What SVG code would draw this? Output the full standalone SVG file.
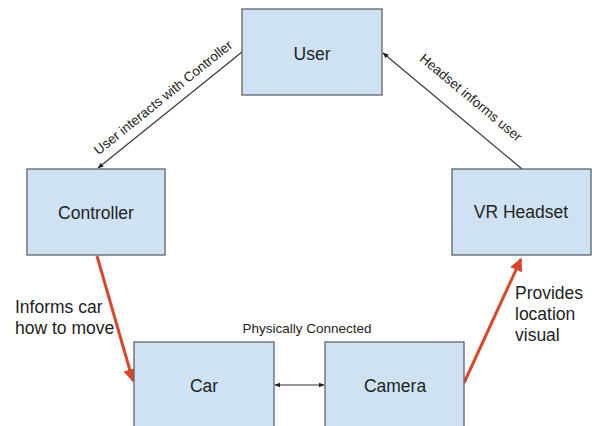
<svg xmlns="http://www.w3.org/2000/svg" width="592" height="426" viewBox="0 0 592 426">
<defs>
<style>
.box{fill:#cfe2f3;stroke:#5f6368;stroke-width:1.3}
.lbl{font-family:"Liberation Sans",Arial,sans-serif;font-size:17.5px;fill:#222;text-anchor:middle}
.note{font-family:"Liberation Sans",Arial,sans-serif;font-size:13.5px;fill:#222}
.big{font-family:"Liberation Sans",Arial,sans-serif;font-size:17.5px;fill:#222}
.thin{stroke:#333;stroke-width:1.1;fill:none}
.red{stroke:#d9472a;stroke-width:3;fill:none}
</style>
<marker id="ah" viewBox="0 0 10 10" refX="9" refY="5" markerWidth="6" markerHeight="6" orient="auto-start-reverse" markerUnits="userSpaceOnUse"><path d="M0,1 L10,5 L0,9 z" fill="#222"/></marker>
<marker id="rh" viewBox="0 0 10 10" refX="9" refY="5" markerWidth="15" markerHeight="13" orient="auto" markerUnits="userSpaceOnUse"><path d="M0,0 L10,5 L0,10 z" fill="#d9472a"/></marker>
</defs>
<rect width="592" height="426" fill="#fff"/>
<g id="connectors">
<line class="thin" x1="242" y1="52" x2="98" y2="168" marker-end="url(#ah)"/>
<line class="thin" x1="522" y1="169" x2="383" y2="53" marker-end="url(#ah)"/>
<line class="thin" x1="275" y1="385" x2="324" y2="385" marker-start="url(#ah)" marker-end="url(#ah)"/>
<line class="red" x1="97" y1="256" x2="133" y2="381" marker-end="url(#rh)"/>
<line class="red" x1="464" y1="383" x2="521" y2="259" marker-end="url(#rh)"/>
<text class="note" text-anchor="middle" transform="translate(166,101) rotate(-38.9)">User interacts with Controller</text>
<text class="note" text-anchor="middle" transform="translate(468,101) rotate(39.8)">Headset informs user</text>
<text class="note" text-anchor="middle" x="307" y="333">Physically Connected</text>
<text class="big" x="15" y="313">Informs car</text>
<text class="big" x="15" y="334">how to move</text>
<text class="big" x="515" y="299">Provides</text>
<text class="big" x="515" y="320">location</text>
<text class="big" x="515" y="341">visual</text>
</g>
<g id="user"><rect class="box" x="242" y="9" width="140" height="86"/><text class="lbl" x="312" y="60">User</text></g>
<g id="controller"><rect class="box" x="27" y="169" width="138" height="86"/><text class="lbl" x="96" y="219">Controller</text></g>
<g id="vr-headset"><rect class="box" x="452" y="169" width="139" height="86"/><text class="lbl" x="521" y="218">VR Headset</text></g>
<g id="car"><rect class="box" x="134" y="342" width="140" height="90"/><text class="lbl" x="204" y="392">Car</text></g>
<g id="camera"><rect class="box" x="325" y="342" width="139" height="90"/><text class="lbl" x="395" y="392">Camera</text></g>
</svg>
